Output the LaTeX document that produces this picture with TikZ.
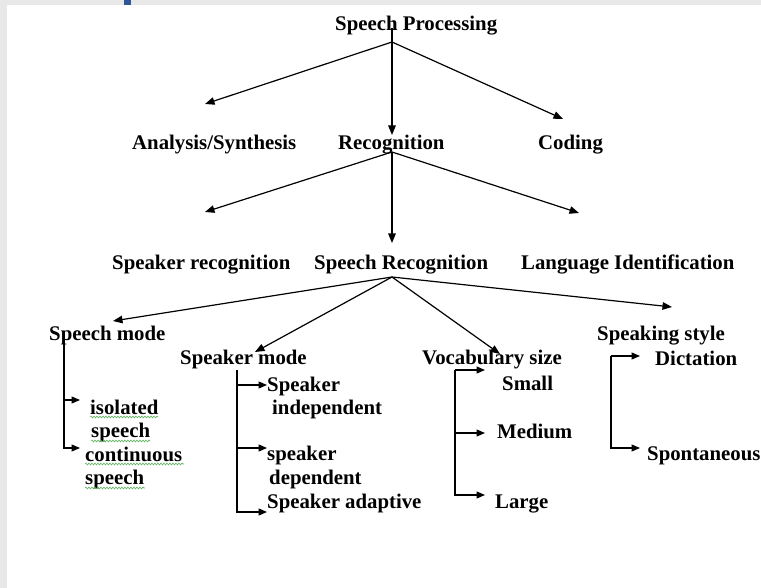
\documentclass[tikz,border=0pt]{standalone}
\usepackage{fontspec}
\setmainfont{Liberation Serif}
\usetikzlibrary{arrows.meta,decorations.pathmorphing}
\definecolor{bgpanel}{RGB}{232,232,232}
\definecolor{topbar}{RGB}{47,85,151}
\definecolor{squig}{RGB}{90,180,90}
\begin{document}
\begin{tikzpicture}[x=1pt,y=-1pt,
  lbl/.style={inner sep=0pt,anchor=base west,font=\fontsize{20.8}{24}\selectfont\bfseries},
  conn/.style={line width=1.2pt,-{Triangle[length=9.5pt,width=7.5pt]}},
  bconn/.style={line width=1.2pt,-{Triangle[length=8.5pt,width=7pt]}},
  squiggle/.style={draw=squig,line width=0.6pt,decorate,decoration={snake,amplitude=0.9pt,segment length=3pt}}]
% background
\fill[bgpanel] (0,0) rectangle (761,588);
\fill[white] (7,5) rectangle (761,588);
\fill[topbar] (124,0) rectangle (131,5);
\useasboundingbox (0,0) rectangle (761,588);
% level 1
\node[lbl] (sp) at (335,31) {Speech Processing};
% level 2
\node[lbl] (as) at (132,150) {Analysis/Synthesis};
\node[lbl] (rec) at (338,150) {Recognition};
\node[lbl] (cod) at (538,150) {Coding};
% level 3
\node[lbl] (sr) at (112,270) {Speaker recognition};
\node[lbl] (spr) at (314,270) {Speech Recognition};
\node[lbl] (li) at (521,270) {Language Identification};
% level 4
\node[lbl] (sm) at (49,341) {Speech mode};
\node[lbl] (skm) at (180,364) {Speaker mode};
\node[lbl] (vs) at (422,364) {Vocabulary size};
\node[lbl] (ss) at (597,341) {Speaking style};
% leaves
\node[lbl] (iso1) at (90,414) {isolated};
\node[lbl] (iso2) at (91,437) {speech};
\node[lbl] (con1) at (85,461) {continuous};
\node[lbl] (con2) at (85,484) {speech};
\node[lbl] (si1) at (267,391) {Speaker};
\node[lbl] (si2) at (272,414) {independent};
\node[lbl] (sd1) at (267,460) {speaker};
\node[lbl] (sd2) at (269,484) {dependent};
\node[lbl] (sa) at (267,508) {Speaker adaptive};
\node[lbl] (sml) at (502,390) {Small};
\node[lbl] (med) at (497,438) {Medium};
\node[lbl] (lrg) at (495,508) {Large};
\node[lbl] (dic) at (655,365) {Dictation};
\node[lbl] (spo) at (647,460) {Spontaneous};
% spell-check squiggles
\draw[squiggle] (iso1.base west) ++(0,3) -- ++(68,0);
\draw[squiggle] (iso2.base west) ++(0,4) -- ++(59,0);
\draw[squiggle] (con1.base west) ++(0,3) -- ++(99,0);
\draw[squiggle] (con2.base west) ++(0,4) -- ++(60,0);
% junctions and tips
\coordinate (j1top) at (392,28);
\coordinate (j1) at (392,42);
\coordinate (t1a) at (205,104);
\coordinate (t1b) at (392,135);
\coordinate (t1c) at (563,119);
\coordinate (j2) at (392,152);
\coordinate (t2a) at (205,212);
\coordinate (t2b) at (392,243);
\coordinate (t2c) at (579,213);
\coordinate (j3) at (392,277);
\coordinate (t3a) at (113,321);
\coordinate (t3b) at (255,352);
\coordinate (t3c) at (500,354);
\coordinate (t3d) at (672,307);
\draw[conn] (j1top) -- (t1b);
\draw[conn] (j1) -- (t1a);
\draw[conn] (j1) -- (t1c);
\draw[conn] (j2) -- (t2a);
\draw[conn] (j2) -- (t2b);
\draw[conn] (j2) -- (t2c);
\draw[conn] (j3) -- (t3a);
\draw[conn] (j3) -- (t3b);
\draw[conn] (j3) -- (t3c);
\draw[conn] (j3) -- (t3d);
% brackets
\coordinate (b1) at (64,340);
\draw[bconn] (b1) |- (80,400);
\draw[bconn] (b1) |- (80,448);
\coordinate (b2) at (237,370);
\draw[bconn] (b2) |- (267,385);
\draw[bconn] (b2) |- (267,448);
\draw[bconn] (b2) |- (267,512);
\coordinate (b3) at (455,370);
\draw[bconn] (b3) -- (485,370);
\draw[bconn] (b3) |- (485,433);
\draw[bconn] (b3) |- (485,495);
\coordinate (b4) at (611,356);
\draw[bconn] (b4) -- (640,356);
\draw[bconn] (b4) |- (640,448);
\end{tikzpicture}
\end{document}
